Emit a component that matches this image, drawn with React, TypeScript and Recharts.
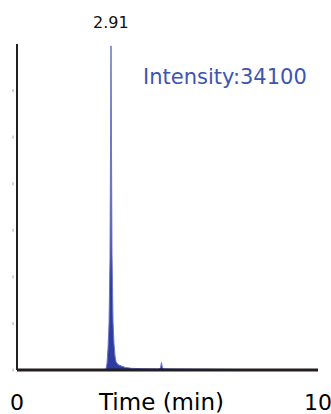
import { Area, AreaChart, XAxis, YAxis } from 'recharts';

// retention time (min) and detector intensity
const times = [
  0, 2.8, 2.957, 2.99, 3.023, 3.057, 3.09, 3.123, 3.156, 3.19, 3.223, 3.256, 3.29, 3.35,
  3.45, 3.6, 3.8, 4.2, 4.72, 4.77, 4.8, 4.83, 4.88, 5.1, 6.5, 8, 10,
];
const intensities = [
  0, 0, 100, 700, 2300, 5000, 12000, 34800, 12500, 5200, 2800, 1500, 900, 600,
  450, 280, 180, 130, 120, 250, 800, 250, 130, 120, 80, 40, 20,
];
const xTicks = [0, 10];
const yTicks = [0, 5000, 10000, 15000, 20000, 25000, 30000];

const peakLabel = '2.91';
const intensityLabel = 'Intensity:34100';
const xTitle = 'Time (min)';

const data = times.map((t, i) => ({ t, v: intensities[i] }));

const font = '"DejaVu Sans", sans-serif';

function YMark(props: { y?: number }) {
  const { y = 0 } = props;
  return <rect x={12} y={y - 1.5} width={2} height={3} fill="#d4d4d4" />;
}

export default function App() {
  return (
    <div style={{ position: 'absolute', left: 0, top: 0, width: 331, height: 414, background: '#fff' }}>
      <AreaChart
        width={331}
        height={414}
        data={data}
        margin={{ top: 44, right: 13, bottom: 0, left: 0 }}
        style={{ fontFamily: font }}
      >
        <XAxis
          type="number"
          dataKey="t"
          domain={[0, 10]}
          ticks={xTicks}
          height={44}
          axisLine={{ stroke: '#231f20', strokeWidth: 3 }}
          tickLine={false}
          tickSize={0}
          tickMargin={24}
          tick={{ fontSize: 22, fill: '#000', fontFamily: font }}
          label={{ value: xTitle, position: 'insideBottom', offset: 4, dx: -6, fontSize: 23, fill: '#000', fontFamily: font }}
        />
        <YAxis
          type="number"
          domain={[0, 35000]}
          ticks={yTicks}
          width={17}
          axisLine={{ stroke: '#231f20', strokeWidth: 2 }}
          tickLine={false}
          tick={<YMark />}
        />
        <Area
          type="linear"
          dataKey="v"
          stroke="#6b76cc"
          strokeWidth={1}
          fill="#2c3d9f"
          fillOpacity={1}
          dot={false}
          isAnimationActive={false}
        />
      </AreaChart>
      <div
        style={{
          position: 'absolute',
          left: 93,
          top: 15,
          fontFamily: font,
          fontSize: 16,
          lineHeight: 1,
          color: '#111',
          whiteSpace: 'nowrap',
        }}
      >
        {peakLabel}
      </div>
      <div
        style={{
          position: 'absolute',
          left: 143,
          top: 67,
          fontFamily: font,
          fontSize: 21,
          lineHeight: 1,
          color: '#3d55b0',
          whiteSpace: 'nowrap',
        }}
      >
        {intensityLabel}
      </div>
    </div>
  );
}
